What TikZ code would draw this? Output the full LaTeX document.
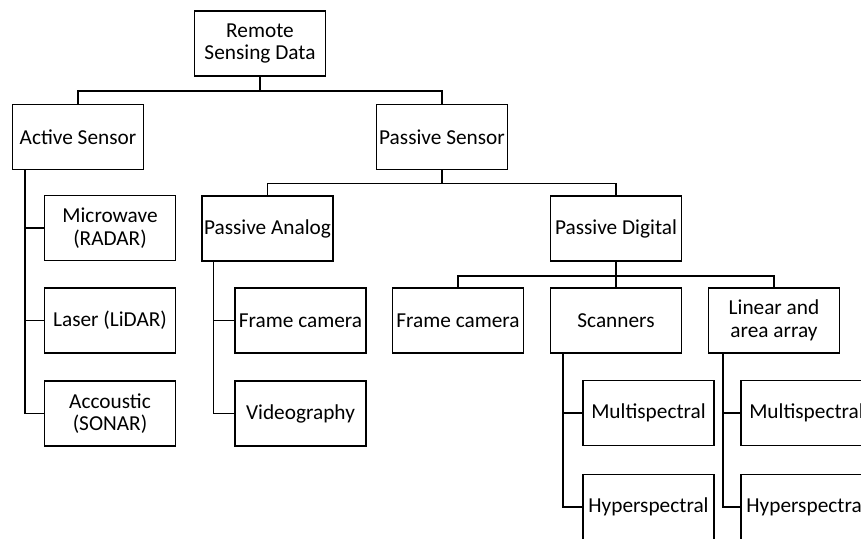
\documentclass[tikz,border=0pt]{standalone}
\usepackage{fontspec}
\setmainfont{Carlito}
\usepackage{tikz}
\usetikzlibrary{positioning}

\tikzset{
    box/.style = {draw, line width = 1.5pt, minimum width = 131pt, minimum height = 65pt,
        inner xsep = 0pt, align = center, font = \fontsize{21.3}{22.5}\selectfont},
    link/.style = {line width = 1.5pt}
}

\begin{document}
\begin{tikzpicture}[x = 1pt, y = -1pt]
        \useasboundingbox (0, 0) rectangle (861, 538);
        \clip (0, 0) rectangle (861, 538);

        \node[box] (rsd) at (260, 43.5) {Remote\\Sensing Data};
        \node[box] (active) at (78, 137) {Active Sensor};
        \node[box] (passive) at (442, 137) {Passive Sensor};

        \node[box] (microwave) at (110, 228) {Microwave\\(RADAR)};
        \node[box] (laser) at (110, 320.5) {Laser (LiDAR)};
        \node[box] (acoustic) at (110, 413.5) {Accoustic\\(SONAR)};

        \node[box] (analog) at (267.5, 228.5) {Passive Analog};
        \node[box] (digital) at (616, 228.5) {Passive Digital};

        \node[box] (aframe) at (300.5, 320.5) {Frame camera};
        \node[box] (video) at (300.5, 413.5) {Videography};

        \node[box] (dframe) at (458, 320.5) {Frame camera};
        \node[box] (scanners) at (616, 320.5) {Scanners};
        \node[box] (array) at (774, 320.5) {Linear and\\area array};

        \node[box] (smulti) at (648.5, 413) {Multispectral};
        \node[box] (shyper) at (648.5, 507) {Hyperspectral};
        \node[box] (amulti) at (806.5, 413) {Multispectral};
        \node[box] (ahyper) at (806.5, 507) {Hyperspectral};

        % top level
        \draw[link] (rsd.south) -- ++(0, 14) -| (active.north);
        \draw[link] (rsd.south) -- ++(0, 14) -| (passive.north);
        \draw[link] (passive.south) -- ++(0, 13) -| (analog.north);
        \draw[link] (passive.south) -- ++(0, 13) -| (digital.north);
        \draw[link] (digital.south) -- ++(0, 14) -| (dframe.north);
        \draw[link] (digital.south) -- ++(0, 14) -| (scanners.north);
        \draw[link] (digital.south) -- ++(0, 14) -| (array.north);

        % side branches
        \draw[link] ([xshift = 13pt]active.south west) |- (microwave.west);
        \draw[link] ([xshift = 13pt]active.south west) |- (laser.west);
        \draw[link] ([xshift = 13pt]active.south west) |- (acoustic.west);
        \draw[link] ([xshift = 12pt]analog.south west) |- (aframe.west);
        \draw[link] ([xshift = 12pt]analog.south west) |- (video.west);
        \draw[link] ([xshift = 13pt]scanners.south west) |- (smulti.west);
        \draw[link] ([xshift = 13pt]scanners.south west) |- (shyper.west);
        \draw[link] ([xshift = 15pt]array.south west) |- (amulti.west);
        \draw[link] ([xshift = 15pt]array.south west) |- (ahyper.west);
\end{tikzpicture}
\end{document}
